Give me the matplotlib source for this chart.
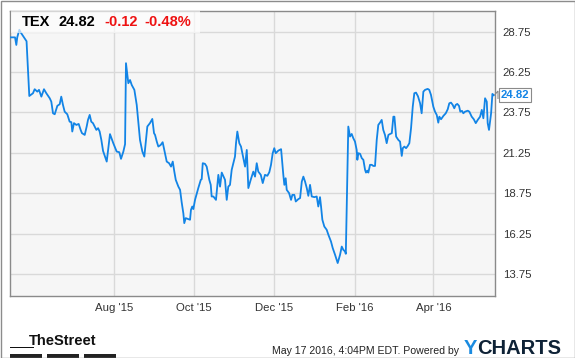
import pandas as pd
import matplotlib
matplotlib.use("Agg")
import matplotlib.pyplot as plt
from matplotlib.patches import Rectangle, Polygon

plt.rcParams["font.family"] = ["Liberation Sans", "DejaVu Sans"]

# TEX daily close (days since 2015-05-14)
START = "2015-05-14"
DAYS = [0, 3.6, 4.6, 5.3, 6.9, 7.9, 9.2, 12.4, 14.5, 17.3, 18.6, 20.6, 21.9, 23.7, 25.7,
        27.5, 30.1, 31.3, 32.6, 33.9, 35.9, 37.7, 38.9, 40.2, 41.5, 43.5, 45.3, 46.6,
        47.3, 48.6, 50.4, 52.2, 53.7, 54.7, 56.8, 58.3, 59.3, 60.6, 61.8, 63.1, 64.4,
        65.7, 67.0, 68.2, 69.5, 70.8, 73.6, 76.1, 78.6, 81.2, 83.2, 84.5, 86.3, 87.6,
        88.3, 90.1, 91.4, 92.7, 94.7, 96.5, 97.7, 99.0, 100.8, 102.3, 104.6, 106.6,
        108.4, 109.7, 110.5, 111.8, 113.0, 114.8, 116.3, 118.1, 119.4, 121.2, 122.7,
        124.0, 125.2, 126.3, 128.3, 129.6, 130.8, 132.1, 132.8, 133.9, 135.9, 137.2,
        137.9, 138.9, 139.7, 141.0, 143.5, 145.4, 146.1, 146.9, 148.6, 149.9, 151.9,
        153.0, 153.7, 155.0, 157.0, 158.8, 160.1, 161.4, 163.9, 165.2, 166.4, 167.7,
        169.0, 171.5, 172.3, 173.3, 174.8, 176.1, 179.2, 180.5, 181.7, 183.5, 185.5,
        186.8, 188.1, 189.3, 191.2, 192.7, 194.4, 196.2, 197.7, 199.0, 200.3, 201.5,
        202.6, 204.6, 206.7, 208.4, 209.2, 210.2, 211.0, 212.8, 214.3, 215.3, 216.8,
        217.9, 219.9, 221.2, 222.5, 223.7, 225.0, 226.3, 227.5, 228.8, 230.1, 232.1,
        233.9, 235.1, 236.4, 237.2, 238.2, 239.7, 241.5, 242.8, 244.1, 244.8, 246.1,
        247.9, 249.9, 251.7, 253.0, 254.2, 255.5, 256.1, 258.0, 259.3, 260.6, 261.8,
        263.1, 264.4, 264.9, 265.7, 267.0, 268.3, 269.5, 270.8, 271.5, 272.5, 273.3,
        274.6, 275.9, 277.1, 278.4, 279.7, 280.9, 282.2, 283.5, 284.7, 286.0, 287.3,
        288.6, 289.9, 291.2, 292.4, 293.2, 294.5, 296.2, 297.5, 298.8, 299.6, 300.8,
        302.1, 303.4, 304.6, 305.9, 307.2, 308.4, 309.7, 311.2, 312.8, 314.0, 315.3,
        316.6, 318.6, 319.8, 321.1, 322.9, 324.2, 325.5, 326.7, 327.5, 328.8, 330.6,
        332.4, 333.9, 335.1, 336.4, 337.7, 338.9, 340.0, 341.2, 342.5, 343.5, 344.8,
        345.8, 347.1, 349.2, 350.4, 352.2, 353.8, 355.3, 356.8, 358.6, 359.9, 361.1,
        362.4, 363.7, 364.4, 365.4, 367.0, 368.0, 369.0]
PRICE = [28.40, 28.40, 27.93, 28.40, 28.87, 28.71, 28.55, 28.16, 24.77, 24.94, 25.19,
         25.04, 25.15, 24.73, 25.19, 24.94, 24.63, 24.42, 23.70, 23.64, 24.16, 24.26,
         24.73, 24.22, 23.80, 23.64, 23.18, 23.15, 22.57, 23.09, 22.98, 23.04, 22.67,
         22.47, 22.36, 22.88, 23.29, 23.60, 23.18, 23.09, 22.88, 22.67, 22.78, 22.57,
         22.05, 21.37, 20.71, 22.41, 21.85, 21.33, 21.29, 20.88, 21.33, 21.79, 26.80,
         25.56, 25.76, 25.45, 25.15, 24.22, 23.18, 22.05, 21.33, 21.02, 22.88, 23.09,
         23.35, 22.47, 22.36, 21.95, 21.64, 21.74, 21.91, 21.23, 20.71, 20.61, 20.40,
         20.71, 20.09, 19.58, 19.16, 18.96, 18.20, 17.50, 16.90, 17.21, 17.15, 17.11,
         17.72, 17.93, 17.77, 18.34, 19.07, 19.58, 19.62, 20.61, 20.57, 20.40, 19.58,
         19.27, 18.55, 18.55, 18.34, 19.89, 19.16, 20.03, 19.58, 18.34, 19.16, 19.27,
         20.20, 21.02, 21.85, 22.57, 21.85, 21.64, 20.40, 21.43, 19.07, 19.58, 20.09,
         19.78, 20.61, 20.09, 19.89, 19.38, 19.89, 19.83, 20.05, 20.51, 21.23, 21.54,
         21.23, 21.39, 21.48, 19.89, 19.27, 19.68, 18.96, 18.76, 18.34, 18.65, 18.65,
         18.24, 18.39, 18.45, 19.47, 19.78, 19.47, 19.07, 18.59, 19.27, 18.55, 18.51,
         18.55, 17.93, 18.51, 17.93, 17.11, 16.69, 16.49, 16.18, 15.91, 15.76, 15.36,
         14.94, 14.43, 14.94, 15.45, 15.25, 15.15, 15.00, 22.88, 22.26, 22.42, 22.16,
         21.95, 21.43, 20.82, 21.23, 21.19, 20.92, 20.82, 20.20, 20.03, 20.15, 20.03,
         20.51, 20.51, 20.44, 20.44, 22.05, 22.98, 23.12, 23.29, 22.67, 22.36, 21.85,
         22.36, 22.42, 22.47, 23.49, 23.49, 22.26, 22.05, 21.95, 21.06, 21.54, 21.64,
         21.54, 21.68, 21.85, 22.78, 24.11, 24.94, 24.98, 24.75, 24.32, 23.70, 25.04,
         25.15, 25.21, 25.15, 24.84, 24.11, 23.80, 23.60, 23.12, 23.49, 23.33, 23.54,
         23.70, 23.95, 24.32, 24.36, 24.22, 24.01, 24.22, 24.28, 24.16, 23.80, 23.85,
         23.70, 23.80, 23.86, 23.80, 23.49, 23.33, 23.09, 23.29, 23.49, 23.91, 23.39,
         24.63, 24.42, 23.09, 22.67, 23.70, 24.90, 24.82]

X_TICKS = ["2015-08-01", "2015-10-01", "2015-12-01", "2016-02-01", "2016-04-01"]
X_LABELS = ["Aug '15", "Oct '15", "Dec '15", "Feb '16", "Apr '16"]
Y_TICKS = [13.75, 16.25, 18.75, 21.25, 23.75, 26.25, 28.75]
END = "2016-05-17"

TICKER = "TEX"
LAST = 24.82
CHANGE = -0.12
CHANGE_PCT = -0.48

W, H = 575, 358
BLUE = "#1284e6"


def fx(px):
    return px / W


def fy(py):
    return 1 - py / H


fig = plt.figure(figsize=(W / 100, H / 100), dpi=100)
fig.patch.set_facecolor("white")
ax = fig.add_axes([fx(10.3), fy(296), fx(494.5 - 10.3), (296 - 10.7) / H])
ax.set_facecolor("#f6f6f6")

dates = pd.Timestamp(START) + pd.to_timedelta(DAYS, unit="D")
ax.plot(dates, PRICE, color=BLUE, lw=1.3, zorder=3, solid_joinstyle="round")

ax.set_xlim(pd.Timestamp(START), pd.Timestamp(END) + pd.Timedelta(days=0.6))
ax.set_ylim(12.39, 30.05)
ax.set_xticks(pd.to_datetime(X_TICKS))
ax.set_xticklabels(X_LABELS)
ax.set_yticks(Y_TICKS)
ax.set_yticklabels([f"{v:.2f}" for v in Y_TICKS])
ax.yaxis.tick_right()
ax.tick_params(axis="both", length=0, labelsize=8.2, colors="#333333")
ax.tick_params(axis="y", pad=6)
ax.tick_params(axis="x", pad=5)
ax.grid(True, color="#d9d9d9", lw=1.0, zorder=0)
for s in ax.spines.values():
    s.set_color("#8a8a8a")
    s.set_linewidth(1.0)

# header box over the plot, line shows faded under it
fig.patches.append(Rectangle((fx(10.8), fy(33)), fx(200 - 10.8), (33 - 11.2) / H,
                             transform=fig.transFigure, facecolor="white",
                             alpha=0.65, edgecolor="none", zorder=5))

hy = fy(22.5)
fig.text(fx(21.5), hy, TICKER, fontsize=10.5, fontweight="bold", color="black",
         va="center", zorder=6)
fig.text(fx(58.3), hy, f"{LAST:.2f}", fontsize=10.5, fontweight="bold",
         color="black", va="center", zorder=6)
fig.text(fx(104), hy, f"{CHANGE:.2f}", fontsize=10.5, fontweight="bold",
         color="#ee1111", va="center", zorder=6)
fig.text(fx(144), hy, f"{CHANGE_PCT:.2f}%", fontsize=10.5, fontweight="bold",
         color="#ee1111", va="center", zorder=6)

# last value flag on the right
fig.patches.append(Polygon([(fx(494.5), fy(95)), (fx(498), fy(91)), (fx(498), fy(99))],
                           closed=False, fill=False, edgecolor="#8a8a8a", lw=0.8,
                           transform=fig.transFigure))
fig.text(fx(515), fy(95), f"{LAST:.2f}", fontsize=8.2, fontweight="bold", color=BLUE,
         ha="center", va="center",
         bbox=dict(boxstyle="square,pad=0.18", facecolor="white",
                   edgecolor="#8a8a8a", lw=0.8))

# footer
fig.text(fx(62.7), fy(341), "TheStreet", fontsize=10.5, fontweight="bold",
         family=["Liberation Sans Narrow", "Liberation Sans"], color="#111111",
         ha="center", va="center")
fig.patches.append(Rectangle((fx(10.3), fy(347.8)), fx(24), 0.9 / H,
                             transform=fig.transFigure, facecolor="#111111"))
for x0, x1 in [(10.3, 42.2), (47, 78.8), (83.6, 115.9)]:
    fig.patches.append(Rectangle((fx(x0), fy(357.7)), fx(x1 - x0), 3.3 / H,
                                 transform=fig.transFigure, facecolor="#222222"))
fig.text(fx(459.5), fy(351.5), "May 17 2016, 4:04PM EDT. Powered by", fontsize=7.6,
         color="#222222", ha="right", va="center")
fig.text(fx(464), fy(348), "Y", fontsize=14.5, fontweight="bold", color="#1a8be0",
         ha="left", va="center")
fig.text(fx(477), fy(348), "CHARTS", fontsize=14.5, fontweight="bold",
         color="#0e2236", ha="left", va="center")

# outer frame
fig.patches.append(Rectangle((0.5 / W, 0.5 / H), 1 - 1 / W, 1 - 1 / H,
                             transform=fig.transFigure, fill=False,
                             edgecolor="#8c8c8c", lw=1.0))

fig.savefig("out.png", dpi=100)
